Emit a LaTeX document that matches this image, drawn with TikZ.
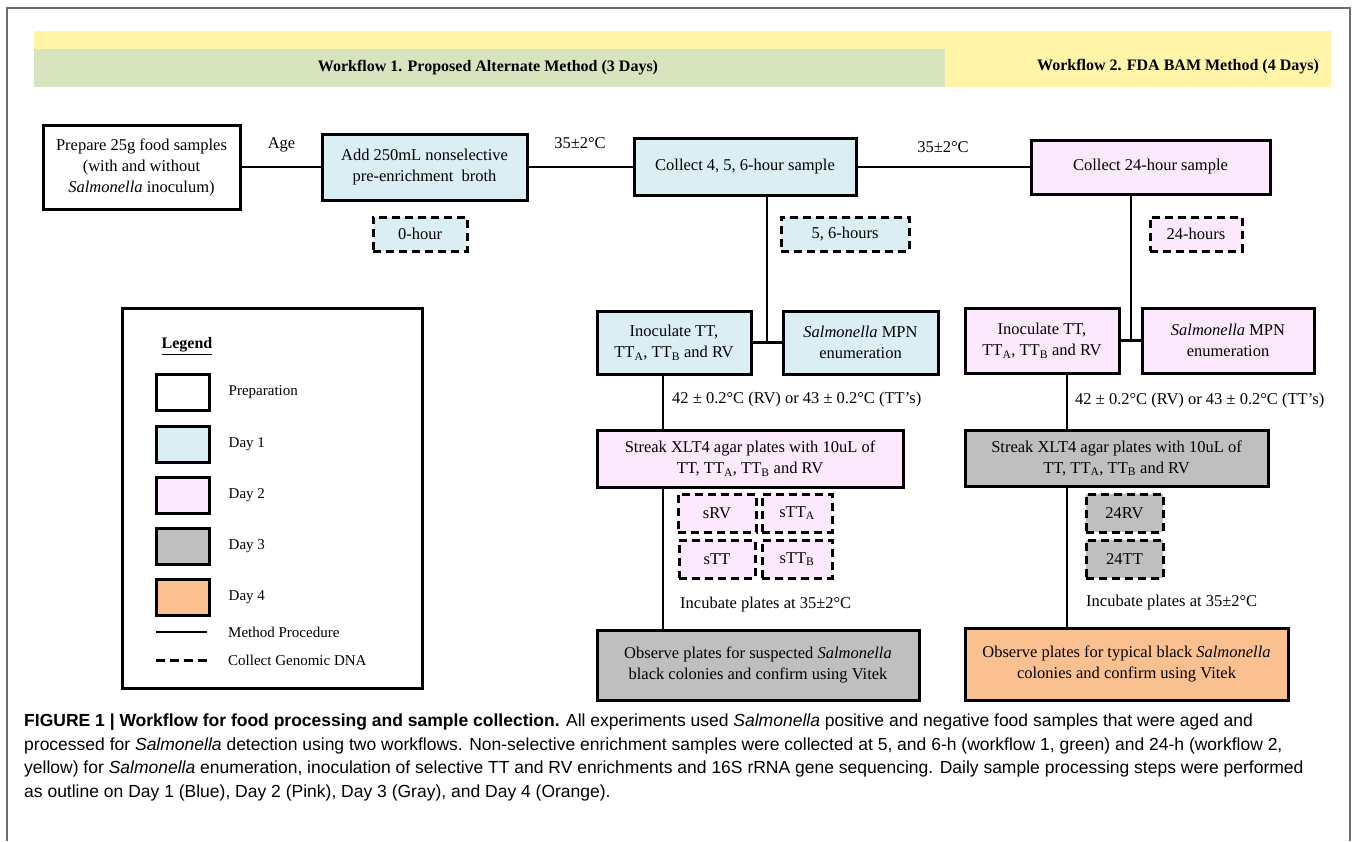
\documentclass[tikz,border=0pt]{standalone}
\usepackage{fontspec}
\setmainfont{Liberation Serif}
\newfontfamily\capfont{Liberation Sans}
\usetikzlibrary{positioning}

\definecolor{bandyellow}{HTML}{FFF4A8}
\definecolor{bandgreen}{HTML}{D7E4BD}
\definecolor{dayone}{HTML}{DAEEF3}
\definecolor{daytwo}{HTML}{FDE9FD}
\definecolor{daythree}{HTML}{BFBFBF}
\definecolor{dayfour}{HTML}{FAC090}
\definecolor{framegray}{HTML}{6E6E6E}

\newcommand*{\boxfont}{\fontsize{16.5}{21}\selectfont}
\newcommand*{\legfont}{\fontsize{15}{18}\selectfont}
\newcommand*{\TTa}{TT\textsubscript{A}}
\newcommand*{\TTb}{TT\textsubscript{B}}
\newcommand*{\Sal}{\textit{Salmonella}}

\begin{document}
\begin{tikzpicture}
[
	x=1pt, y=-1pt,
	procbox/.style={draw, line width=3pt, align=center, inner sep=0pt, font=\boxfont},
	dnabox/.style={draw, line width=3pt, dash pattern=on 8pt off 5pt, inner sep=0pt, font=\boxfont, minimum height=38pt},
	link/.style={line width=2.5pt},
	lbl/.style={inner sep=0pt, font=\boxfont},
	legswatch/.style={draw, line width=3pt, minimum width=53pt, minimum height=36pt, inner sep=0pt},
	legtext/.style={inner sep=0pt, font=\legfont}
]

	\useasboundingbox (0,0) rectangle (1357,841);
	\draw[framegray, line width=1.5pt] (7,841) |- (1350,8) -- (1350,841);

	% banners
	\fill[bandyellow] (34,31) rectangle (1331,87);
	\fill[bandgreen] (34,49) rectangle (945,87);
	\node[lbl, font=\fontsize{16}{18}\selectfont\bfseries] (wf1) at (488,68) {Workflow 1. Proposed Alternate Method (3 Days)};
	\node[lbl, font=\fontsize{16}{18}\selectfont\bfseries] (wf2) at (1178,67) {Workflow 2. FDA BAM Method (4 Days)};

	% first row
	\node[procbox, minimum width=197pt, minimum height=84pt] (prep) at (141.5,167) {Prepare 25g food samples\\(with and without\\\Sal{} inoculum)};
	\node[procbox, fill=dayone, minimum width=205pt, minimum height=66pt] (addbroth) at (424.5,167) {Add 250mL nonselective\\pre-enrichment\ \ broth};
	\node[procbox, fill=dayone, minimum width=222pt, minimum height=57pt] (coll1) at (745,167) {Collect 4, 5, 6-hour sample};
	\node[procbox, fill=daytwo, minimum width=239pt, minimum height=54pt] (coll2) at (1150.5,167) {Collect 24-hour sample};

	\draw[link] (prep) -- (addbroth);
	\draw[link] (addbroth) -- (coll1);
	\draw[link] (coll1) -- (coll2);
	\node[lbl] (age) at (281.5,145) {Age};
	\node[lbl] (temp1) at (580,143) {35±2°C};
	\node[lbl] (temp2) at (943,147) {35±2°C};

	% genomic DNA samples
	\node[dnabox, fill=dayone, minimum width=94pt, minimum height=34pt] (hour0) at (420,234) {0-hour};
	\node[dnabox, fill=dayone, minimum width=128pt, minimum height=34pt] (hour56) at (845,234) {5,\ 6-hours};
	\node[dnabox, fill=daytwo, minimum width=92pt, minimum height=34pt] (hour24) at (1196,234) {24-hours};

	% workflow 1
	\node[procbox, fill=dayone, minimum width=154pt, minimum height=63pt] (inoc1) at (674,342.5) {Inoculate TT,\\\TTa, \TTb{} and RV};
	\node[procbox, fill=dayone, minimum width=155pt, minimum height=63pt] (mpn1) at (860.5,342.5) {\Sal{} MPN\\enumeration};
	\node[procbox, fill=daytwo, minimum width=306pt, minimum height=57pt] (streak1) at (750,458.5) {Streak XLT4 agar plates with 10uL of\\TT, \TTa, \TTb{} and RV};
	\node[dnabox, fill=daytwo, minimum width=78pt] (srv) at (717,513) {sRV};
	\node[dnabox, fill=daytwo, minimum width=70pt] (stta) at (797,513) {s\TTa};
	\node[dnabox, fill=daytwo, minimum width=76pt] (stt) at (717,559) {sTT};
	\node[dnabox, fill=daytwo, minimum width=70pt] (sttb) at (797,559) {s\TTb};
	\node[procbox, fill=daythree, minimum width=322pt, minimum height=70pt] (observe1) at (758,665) {Observe plates for suspected \Sal\\black colonies and confirm using Vitek};

	\coordinate (j1) at (767,0);
	\coordinate (v1) at (663,0);
	\draw[link] (coll1.south -| j1) -- (j1 |- inoc1.east);
	\draw[link] (inoc1.east) -- (mpn1.west);
	\draw[link] (inoc1.south -| v1) -- (streak1.north -| v1);
	\draw[link] (streak1.south -| v1) -- (observe1.north -| v1);
	\node[lbl, anchor=west] (heat1) at (672,400) {42 ± 0.2°C (RV) or 43 ± 0.2°C (TT’s)};
	\node[lbl, anchor=west] (incub1) at (680,605) {Incubate plates at 35±2°C};

	% workflow 2
	\node[procbox, fill=daytwo, minimum width=154pt, minimum height=65pt] (inoc2) at (1042,340.5) {Inoculate TT,\\\TTa, \TTb{} and RV};
	\node[procbox, fill=daytwo, minimum width=172pt, minimum height=65pt] (mpn2) at (1228,340.5) {\Sal{} MPN\\enumeration};
	\node[procbox, fill=daythree, minimum width=303pt, minimum height=56pt] (streak2) at (1116.5,458) {Streak XLT4 agar plates with 10uL of\\TT, \TTa, \TTb{} and RV};
	\node[dnabox, fill=daythree, minimum width=77pt] (rv24) at (1124.5,513) {24RV};
	\node[dnabox, fill=daythree, minimum width=77pt] (tt24) at (1124.5,559) {24TT};
	\node[procbox, fill=dayfour, minimum width=323pt, minimum height=72pt] (observe2) at (1126.5,664) {Observe plates for typical black \Sal\\colonies and confirm using Vitek};

	\coordinate (j2) at (1131,0);
	\coordinate (v2) at (1067,0);
	\draw[link] (coll2.south -| j2) -- (j2 |- inoc2.east);
	\draw[link] (inoc2.east) -- (mpn2.west);
	\draw[link] (inoc2.south -| v2) -- (streak2.north -| v2);
	\draw[link] (streak2.south -| v2) -- (observe2.north -| v2);
	\node[lbl, anchor=west] (heat2) at (1075,401) {42 ± 0.2°C (RV) or 43 ± 0.2°C (TT’s)};
	\node[lbl, anchor=west] (incub2) at (1086,603) {Incubate plates at 35±2°C};

	% legend
	\node[draw, line width=3pt, minimum width=300pt, minimum height=380pt] (legbox) at (272,498) {};
	\node[inner sep=0pt, font=\fontsize{16}{18}\selectfont\bfseries] (legtitle) at (187,346) {\underline{Legend}};
	\foreach \fillc/\ymid/\txt [count=\i] in {white/392/Preparation, dayone/444/Day 1, daytwo/495/Day 2, daythree/546.5/Day 3, dayfour/597.5/Day 4}
	{
		\node[legswatch, fill=\fillc] (sw\i) at (182.5,\ymid) {};
		\node[legtext, right=18pt of sw\i] (swl\i) {\txt};
	}
	\coordinate (mp1) at (156,632);
	\coordinate (mp2) at (207,632);
	\draw[link] (mp1) -- (mp2);
	\node[legtext, anchor=west] (mpl) at (228,632) {Method Procedure};
	\coordinate (gd1) at (156,660);
	\coordinate (gd2) at (207,660);
	\draw[line width=3pt, dash pattern=on 9pt off 5pt] (gd1) -- (gd2);
	\node[legtext, anchor=west] (gdl) at (228,660) {Collect Genomic DNA};

	% caption
	\node[anchor=north west, inner sep=0pt, align=left, font=\capfont\fontsize{17.5}{23.5}\selectfont] (caption) at (24,714)
	{\textbf{FIGURE 1 | Workflow for food processing and sample collection.} All experiments used \Sal{} positive and negative food samples that were aged and\\
	processed for \Sal{} detection using two workflows. Non-selective enrichment samples were collected at 5, and 6-h (workflow 1, green) and 24-h (workflow 2,\\
	yellow) for \Sal{} enumeration, inoculation of selective TT and RV enrichments and 16S rRNA gene sequencing. Daily sample processing steps were performed\\
	as outline on Day 1 (Blue), Day 2 (Pink), Day 3 (Gray), and Day 4 (Orange).};

\end{tikzpicture}
\end{document}
